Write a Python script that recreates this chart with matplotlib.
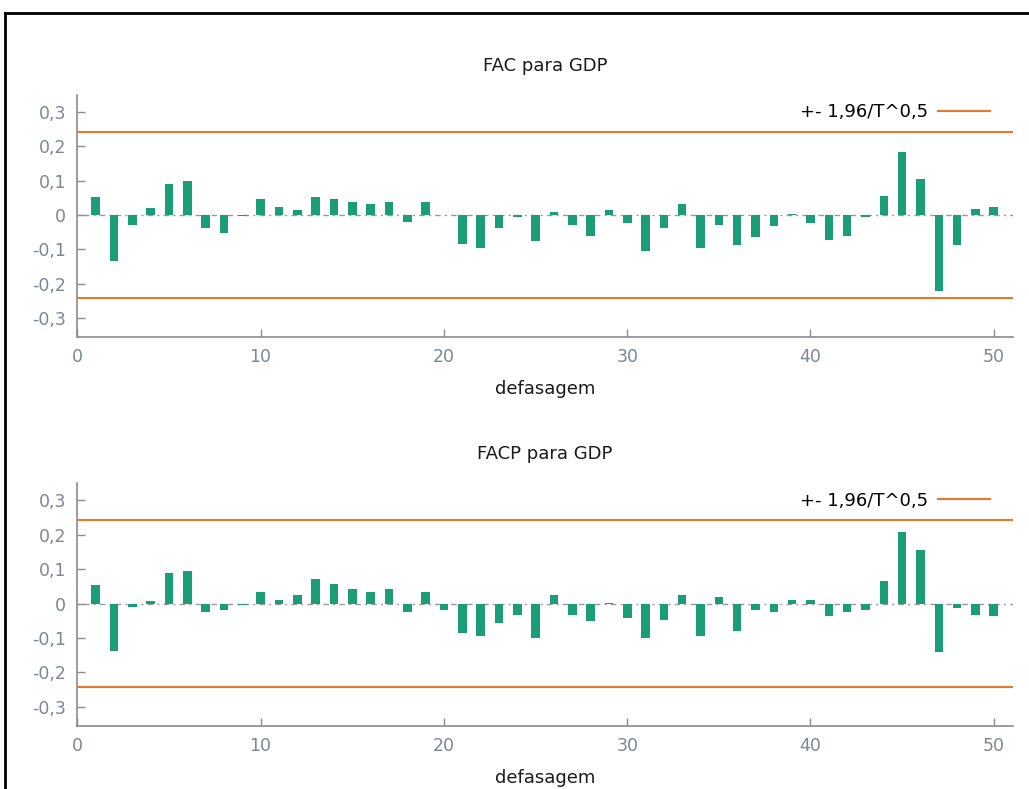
import numpy as np
import matplotlib
matplotlib.use("Agg")
import matplotlib.pyplot as plt
from matplotlib.lines import Line2D
from matplotlib.ticker import FuncFormatter

# lags and autocorrelations of GDP
lags = np.arange(1, 51)

fac = [0.052, -0.134, -0.029, 0.020, 0.089, 0.100, -0.038, -0.052, -0.002, 0.048,
       0.024, 0.015, 0.052, 0.048, 0.038, 0.032, 0.038, -0.020, 0.038, 0.001,
       -0.085, -0.095, -0.038, -0.005, -0.076, 0.008, -0.028, -0.061, 0.014, -0.022,
       -0.105, -0.037, 0.032, -0.095, -0.028, -0.089, -0.065, -0.033, 0.002, -0.022,
       -0.072, -0.061, -0.005, 0.056, 0.184, 0.104, -0.223, -0.089, 0.017, 0.023]

facp = [0.053, -0.137, -0.010, 0.006, 0.089, 0.094, -0.024, -0.019, -0.004, 0.033,
        0.010, 0.025, 0.071, 0.057, 0.043, 0.034, 0.043, -0.024, 0.033, -0.020,
        -0.085, -0.094, -0.057, -0.033, -0.100, 0.025, -0.033, -0.052, 0.001, -0.043,
        -0.100, -0.047, 0.024, -0.094, 0.019, -0.080, -0.018, -0.024, 0.010, 0.010,
        -0.037, -0.024, -0.018, 0.066, 0.208, 0.156, -0.141, -0.013, -0.033, -0.037]

n_obs = 65
band = 1.96 / np.sqrt(n_obs)

titles = ["FAC para GDP", "FACP para GDP"]
band_label = "+- 1,96/T^0,5"

bar_color = "#1b9e77"
band_color = "#e6782c"
axis_color = "#8c8c8c"
tick_text = "#7c8796"

fig = plt.figure(figsize=(10.29, 7.89), dpi=100)

positions = [[0.0751, 0.5733, 0.9094, 0.3063],
             [0.0751, 0.0802, 0.9094, 0.3076]]

comma = FuncFormatter(lambda v, p: ("%.1f" % v).replace(".", ",") if abs(v) > 1e-9 else "0")

for pos, values, title in zip(positions, [fac, facp], titles):
    ax = fig.add_axes(pos)
    ax.bar(lags, values, width=0.47, color=bar_color, zorder=3)
    ax.axhline(0, color="#999999", lw=1, ls=(0, (1.5, 3, 4, 3)), zorder=2)
    ax.axhline(band, color=band_color, lw=1.5, label=band_label, zorder=2)
    ax.axhline(-band, color=band_color, lw=1.5, zorder=2)

    ax.set_xlim(0, 51.05)
    ax.set_ylim(-0.355, 0.35)
    ax.set_xticks([0, 10, 20, 30, 40, 50])
    ax.set_yticks([-0.3, -0.2, -0.1, 0, 0.1, 0.2, 0.3])
    ax.yaxis.set_major_formatter(comma)

    for side in ["top", "right"]:
        ax.spines[side].set_visible(False)
    for side in ["left", "bottom"]:
        ax.spines[side].set_color(axis_color)
        ax.spines[side].set_linewidth(1.2)
    ax.tick_params(direction="in", length=6, width=1, color=axis_color,
                   labelcolor=tick_text, labelsize=12.5, pad=8)

    ax.set_title(title, fontsize=13, pad=17, color="#1a1a1a")
    ax.set_xlabel("defasagem", fontsize=13, labelpad=10, color="#1a1a1a")
    ax.legend(loc="upper right", bbox_to_anchor=(0.9754, 0.965), frameon=False,
              markerfirst=False, handlelength=2.9, borderpad=0, borderaxespad=0,
              fontsize=13, handletextpad=0.55)

# window frame
fig.add_artist(Line2D([0.0049, 0.0049], [0, 1 - 13 / 789], color="black", lw=2))
fig.add_artist(Line2D([0.0049, 1], [1 - 13 / 789, 1 - 13 / 789], color="black", lw=2))

fig.savefig("out.png", dpi=100)
